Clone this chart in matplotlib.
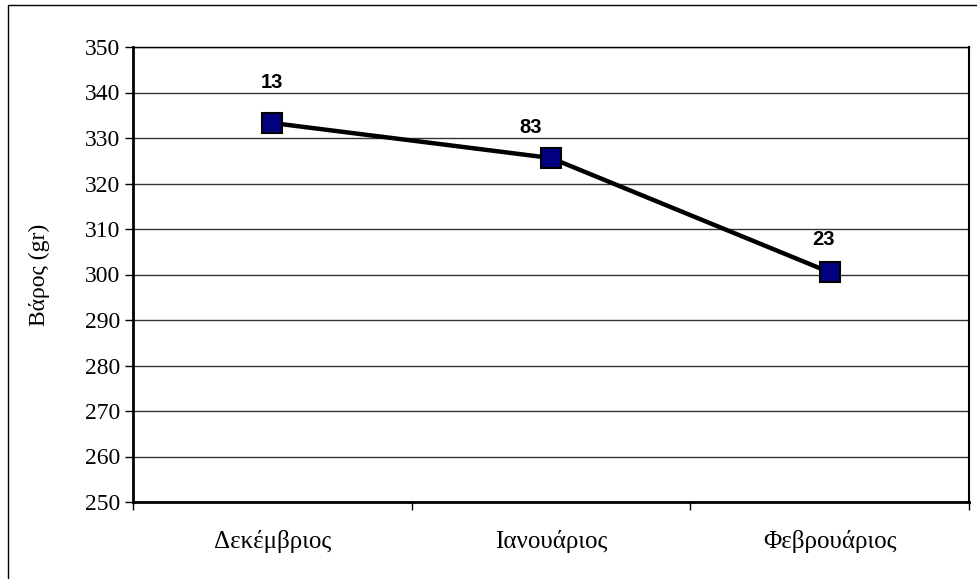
import matplotlib.pyplot as plt
from matplotlib.patches import Rectangle

months = ["Δεκέμβριος", "Ιανουάριος", "Φεβρουάριος"]
weights = [333.3, 325.6, 300.5]
point_labels = ["13", "83", "23"]
y_ticks = list(range(250, 351, 10))

# hand-placed label offsets (points), as in the original
label_offsets = [(0, 22), (-14.5, 15), (-4.5, 17)]

fig = plt.figure(figsize=(9.77, 5.79), dpi=100)
W, H = 977, 579

# outer frame (right/bottom run past the image edge)
fig.patches.append(Rectangle((8 / W, -0.05), 1.0, 1 - 5 / H + 0.05,
                             transform=fig.transFigure, fill=False,
                             edgecolor="black", linewidth=1.0))

left, right, top, bottom = 133, 969, 47, 502
ax = fig.add_axes([left / W, 1 - bottom / H, (right - left) / W, (bottom - top) / H])

x = range(len(months))
ax.plot(x, weights, color="black", linewidth=3.2, zorder=3,
        marker="s", markersize=14, markerfacecolor="#000080",
        markeredgecolor="black", markeredgewidth=1.5)

for xi, yi, lab, off in zip(x, weights, point_labels, label_offsets):
    ax.annotate(lab, (xi, yi), xytext=off, textcoords="offset points",
                ha="center", va="bottom", fontsize=14.5, fontweight="bold",
                family="Liberation Sans")

ax.set_xlim(-0.5, 2.5)
ax.set_ylim(250, 350)
ax.set_yticks(y_ticks)
ax.set_yticklabels([str(v) for v in y_ticks], family="Liberation Serif", fontsize=17)
ax.set_xticks([0, 1, 2])
ax.set_xticklabels(months, family="Liberation Serif", fontsize=18)
ax.set_xticks([-0.5, 0.5, 1.5, 2.5], minor=True)
ax.tick_params(axis="x", which="major", length=0, pad=20)
ax.tick_params(axis="x", which="minor", length=6, direction="out", width=1)
ax.tick_params(axis="y", length=6, direction="out", width=1, pad=3)

ax.grid(axis="y", color="#333333", linewidth=1.0)
ax.set_axisbelow(True)
for side in ax.spines.values():
    side.set_linewidth(1.0)
ax.spines["left"].set_linewidth(2.0)
ax.spines["bottom"].set_linewidth(2.0)
ax.spines["right"].set_linewidth(1.5)

ax.set_ylabel("Βάρος (gr)", family="Liberation Serif", fontsize=17, labelpad=25)

fig.savefig("out.png", dpi=100)
